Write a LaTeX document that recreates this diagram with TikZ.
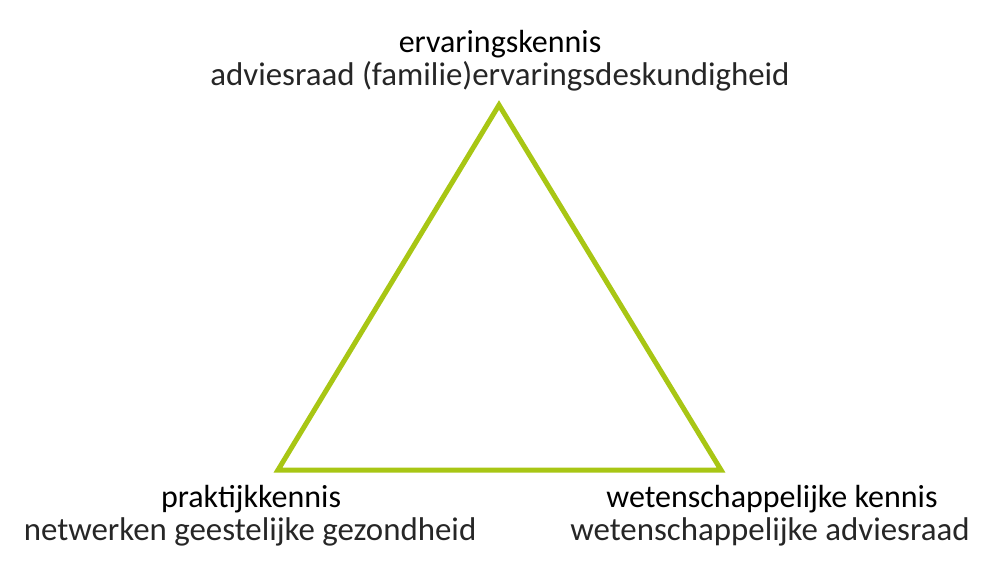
\documentclass[tikz,border=0pt]{standalone}
\usepackage{fontspec}
\setmainfont{Carlito}
\definecolor{tri}{RGB}{168,198,20}
\begin{document}
\begin{tikzpicture}[x=0.01cm,y=-0.01cm,
  head/.style={anchor=base,inner sep=0pt,font=\fontsize{9.1pt}{11pt}\selectfont},
  sub/.style={anchor=base,inner sep=0pt,font=\fontsize{9.35pt}{11pt}\selectfont,text=black!85}]
\useasboundingbox (0,0) rectangle (1000,563);
\coordinate (T) at (499,105);
\coordinate (L) at (278,470);
\coordinate (R) at (721,470);
\draw[tri,line width=0.05cm,line join=miter] (T) -- (L) -- (R) -- cycle;
\node[head] (t1) at (500,52) {ervaringskennis};
\node[sub] (t2) at (500,85) {adviesraad (familie)ervaringsdeskundigheid};
\node[head] (l1) at (251,507) {praktijkkennis};
\node[sub] (l2) at (250,540) {netwerken geestelijke gezondheid};
\node[head] (r1) at (772,507) {wetenschappelijke kennis};
\node[sub] (r2) at (770,540) {wetenschappelijke adviesraad};
\end{tikzpicture}
\end{document}
